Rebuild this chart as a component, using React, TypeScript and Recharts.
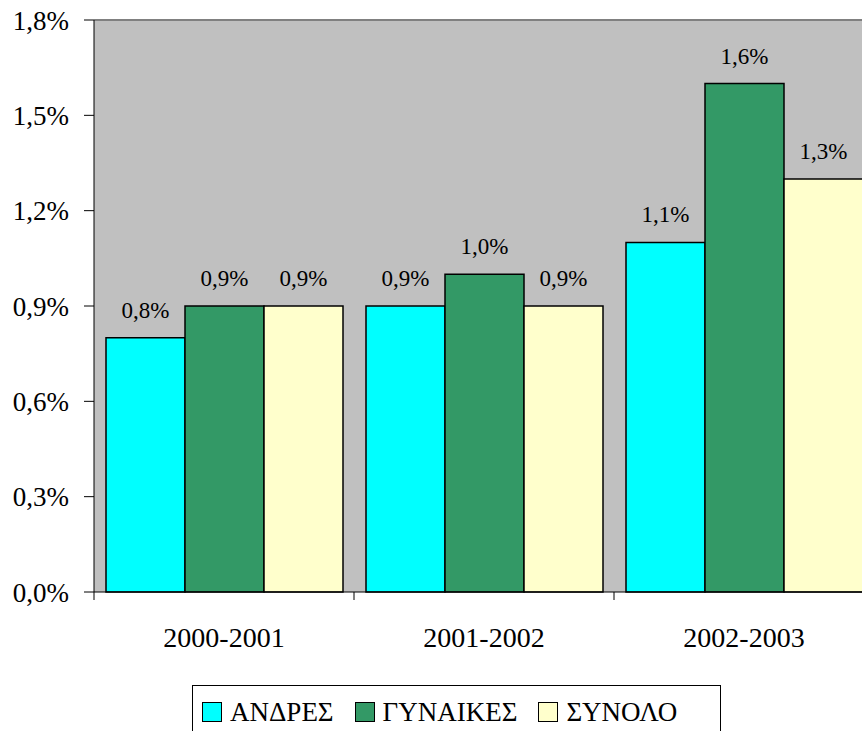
import React from 'react';
import { BarChart, Bar, XAxis, YAxis, CartesianGrid, LabelList, Legend, ReferenceLine } from 'recharts';

const categories = ['2000-2001', '2001-2002', '2002-2003'];
const andres = [0.8, 0.9, 1.1];
const gynaikes = [0.9, 1.0, 1.6];
const synolo = [0.9, 0.9, 1.3];
const yTicks = [0, 0.3, 0.6, 0.9, 1.2, 1.5, 1.8];
const seriesNames = ['ΑΝΔΡΕΣ', 'ΓΥΝΑΙΚΕΣ', 'ΣΥΝΟΛΟ'];
const seriesColors = ['#00FFFF', '#339966', '#FFFFCC'];

const data = categories.map((c, i) => ({
  name: c,
  andres: andres[i],
  gynaikes: gynaikes[i],
  synolo: synolo[i],
}));

const FONT = "'Liberation Serif', 'Times New Roman', serif";
const fmt = (v: number) => v.toFixed(1).replace('.', ',') + '%';

const XTick = (props: any) => {
  const { x, y, payload } = props;
  const half = payload && payload.offset ? payload.offset : 130;
  return (
    <g>
      <line x1={x - half} y1={y} x2={x - half} y2={y + 8} stroke="#000" strokeWidth={1} />
      <text x={x} y={y + 55} textAnchor="middle" fontFamily={FONT} fontSize={28} fill="#000">
        {payload.value}
      </text>
    </g>
  );
};

const LegendContent = () => (
  <div
    style={{
      boxSizing: 'border-box',
      width: 529,
      height: 50,
      border: '1px solid #000',
      background: '#fff',
      display: 'flex',
      alignItems: 'flex-start',
      paddingLeft: 9,
      paddingTop: 15,
      fontFamily: FONT,
      fontSize: 27,
      color: '#000',
    }}
  >
    {seriesNames.map((n, i) => (
      <div key={n} style={{ display: 'flex', alignItems: 'center', marginRight: 21 }}>
        <div
          style={{
            boxSizing: 'border-box',
            width: 20,
            height: 20,
            border: '1.5px solid #000',
            background: seriesColors[i],
            marginRight: 8,
          }}
        />
        <span style={{ lineHeight: '22px' }}>{n}</span>
      </div>
    ))}
  </div>
);

export default function App() {
  return (
    <div style={{ position: 'absolute', left: 0, top: 0, width: 862, height: 731, overflow: 'hidden', background: '#fff' }}>
      <BarChart
        width={880}
        height={731}
        data={data}
        margin={{ top: 20, right: 6, left: 0, bottom: 0 }}
        barCategoryGap={12}
        barGap={0}
      >
        <CartesianGrid horizontal={false} vertical={false} fill="#C0C0C0" />
        <ReferenceLine y={1.8} stroke="#808080" strokeWidth={2} />
        <XAxis
          dataKey="name"
          height={89}
          tickSize={0}
          tickMargin={0}
          tickLine={false}
          axisLine={{ stroke: '#000', strokeWidth: 1 }}
          tick={<XTick />}
          interval={0}
        />
        <YAxis
          width={94}
          domain={[0, 1.8]}
          ticks={yTicks}
          tickFormatter={fmt}
          tickSize={10}
          tickMargin={15}
          axisLine={{ stroke: '#000', strokeWidth: 1 }}
          tickLine={{ stroke: '#000' }}
          tick={{ fontFamily: FONT, fontSize: 27, fill: '#000' }}
          interval={0}
        />
        <Legend
          verticalAlign="bottom"
          content={<LegendContent />}
          wrapperStyle={{ position: 'absolute', left: 192, top: 685, width: 529, height: 50, bottom: 'auto' }}
        />
        <Bar dataKey="andres" name={seriesNames[0]} fill={seriesColors[0]} stroke="#000" strokeWidth={1.5} isAnimationActive={false}>
          <LabelList dataKey="andres" position="top" offset={20} formatter={(v: any) => fmt(Number(v))} style={{ fontFamily: FONT, fontSize: 23, fill: '#000' }} />
        </Bar>
        <Bar dataKey="gynaikes" name={seriesNames[1]} fill={seriesColors[1]} stroke="#000" strokeWidth={1.5} isAnimationActive={false}>
          <LabelList dataKey="gynaikes" position="top" offset={20} formatter={(v: any) => fmt(Number(v))} style={{ fontFamily: FONT, fontSize: 23, fill: '#000' }} />
        </Bar>
        <Bar dataKey="synolo" name={seriesNames[2]} fill={seriesColors[2]} stroke="#000" strokeWidth={1.5} isAnimationActive={false}>
          <LabelList dataKey="synolo" position="top" offset={20} formatter={(v: any) => fmt(Number(v))} style={{ fontFamily: FONT, fontSize: 23, fill: '#000' }} />
        </Bar>
      </BarChart>
    </div>
  );
}
